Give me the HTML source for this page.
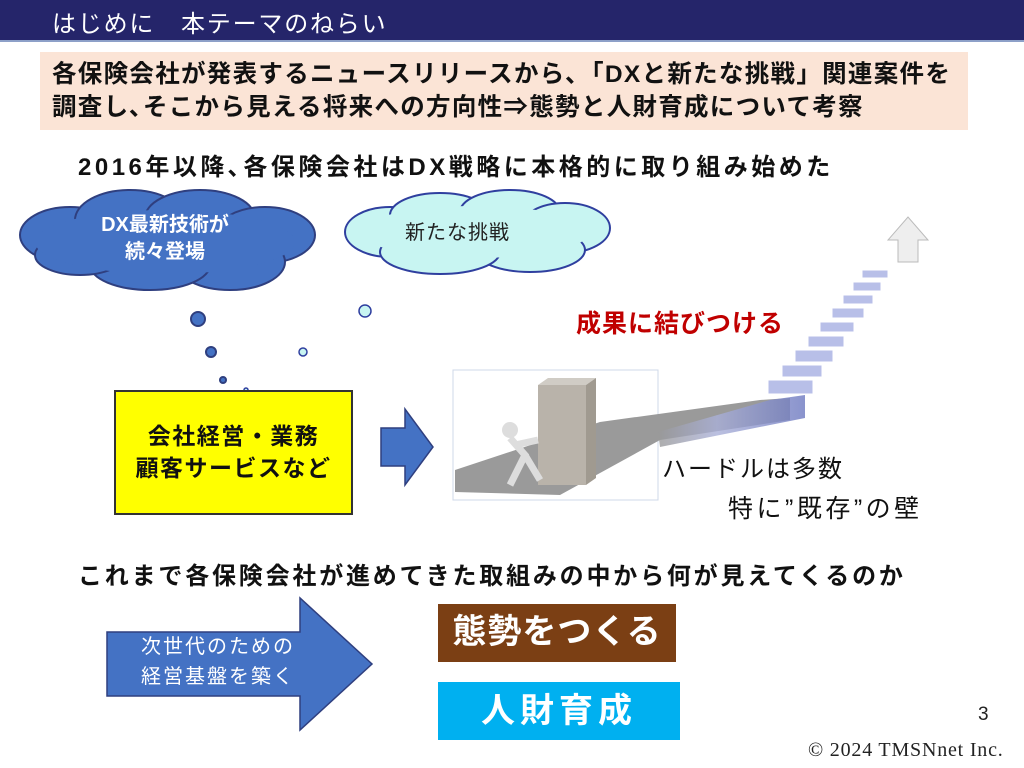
<!DOCTYPE html>
<html><head><meta charset="utf-8"><style>
body{margin:0;width:1024px;height:768px;position:relative;background:#fff;overflow:hidden;font-family:"Liberation Sans","Noto Sans CJK JP",sans-serif}
.a{position:absolute;white-space:nowrap}
</style></head><body>
<div class="a" style="left:0;top:0;width:1024px;height:40px;background:#25256a;border-bottom:2px solid #8da0c8"></div>
<div class="a" style="left:52px;top:4px;color:#fff;font-size:24px;letter-spacing:1.8px">はじめに　本テーマのねらい</div>
<div class="a" style="left:40px;top:52px;width:928px;height:78px;background:#fbe4d6"></div>
<div class="a" style="left:52px;top:58px;font-size:24.5px;letter-spacing:1.3px;font-weight:bold;line-height:33px;color:#111">各保険会社が発表するニュースリリースから､「DXと新たな挑戦」関連案件を<br>調査し､そこから見える将来への方向性⇒態勢と人財育成について考察</div>
<div class="a" style="left:78px;top:147px;font-size:24px;letter-spacing:3.5px;font-weight:bold;color:#111">2016年以降､各保険会社はDX戦略に本格的に取り組み始めた</div>
<svg class="a" style="left:0;top:0" width="1024" height="768">
<defs><linearGradient id="g" x1="0" x2="1"><stop offset="0" stop-color="#999"/><stop offset="0.4" stop-color="#aab0d8"/><stop offset="1" stop-color="#6c78c0"/></linearGradient></defs>
<g fill="#4472c4" stroke="#2f3f7f" stroke-width="2">
<ellipse cx="70" cy="235" rx="50" ry="28"/><ellipse cx="130" cy="220" rx="55" ry="30"/><ellipse cx="200" cy="218" rx="55" ry="28"/><ellipse cx="265" cy="235" rx="50" ry="28"/><ellipse cx="230" cy="262" rx="55" ry="28"/><ellipse cx="150" cy="265" rx="60" ry="25"/><ellipse cx="80" cy="255" rx="45" ry="20"/>
</g>
<g fill="#4472c4"><ellipse cx="165" cy="242" rx="130" ry="32"/></g>
<g fill="#c8f5f2" stroke="#2f3f9f" stroke-width="2">
<ellipse cx="390" cy="232" rx="45" ry="25"/><ellipse cx="440" cy="215" rx="50" ry="22"/><ellipse cx="510" cy="212" rx="50" ry="22"/><ellipse cx="565" cy="228" rx="45" ry="25"/><ellipse cx="530" cy="250" rx="55" ry="22"/><ellipse cx="440" cy="252" rx="60" ry="22"/>
</g>
<ellipse cx="475" cy="232" rx="115" ry="26" fill="#c8f5f2"/>
<g stroke="#2f3f7f" stroke-width="2" fill="#4472c4"><circle cx="198" cy="319" r="7"/><circle cx="211" cy="352" r="5"/><circle cx="223" cy="380" r="3"/></g>
<g stroke="#2f3f9f" stroke-width="1.5" fill="#c8f5f2"><circle cx="365" cy="311" r="6"/><circle cx="303" cy="352" r="4"/><circle cx="246" cy="390" r="2"/></g>
<rect x="115" y="391" width="237" height="123" fill="#ffff00" stroke="#333" stroke-width="2"/>
<polygon points="381,428 405,428 405,409 433,447 405,485 405,466 381,466" fill="#4472c4" stroke="#2f3f7f" stroke-width="1.5"/>
<rect x="453" y="370" width="205" height="130" fill="#fff" stroke="#cfd8e8"/>
<polygon points="455,492 455,470 600,422 760,400 790,398 790,420 660,440 560,495" fill="#9a9a9a"/>
<polygon points="658,432 770,400 805,395 805,418 660,447" fill="url(#g)" opacity="0.8"/>
<g fill="#b8bfe8" stroke="#fff">
<rect x="768" y="380" width="45" height="14"/><rect x="782" y="365" width="40" height="12"/><rect x="795" y="350" width="38" height="12"/><rect x="808" y="336" width="36" height="11"/><rect x="820" y="322" width="34" height="10"/><rect x="832" y="308" width="32" height="10"/><rect x="843" y="295" width="30" height="9"/><rect x="853" y="282" width="28" height="9"/><rect x="862" y="270" width="26" height="8"/></g>
<polygon points="898,262 898,240 888,240 908,217 928,240 918,240 918,262" fill="#eee" stroke="#bbb"/>
<rect x="538" y="385" width="48" height="100" fill="#b9b3aa"/>
<polygon points="538,385 548,378 596,378 586,385" fill="#d0ccc5"/><polygon points="586,385 596,378 596,478 586,485" fill="#a09a90"/>
<circle cx="510" cy="430" r="8" fill="#ddd"/><path d="M510 438 L525 455 L510 485 M525 455 L540 480 M515 445 L538 440" stroke="#ddd" stroke-width="7" fill="none"/>
<polygon points="107,632 300,632 300,598 372,664 300,730 300,696 107,696" fill="#4472c4" stroke="#2f3f7f" stroke-width="1.5"/>
</svg>
<div class="a" style="left:75px;top:212px;width:180px;text-align:center;color:#fff;font-size:20px;font-weight:bold;line-height:27px">DX最新技術が<br>続々登場</div>
<div class="a" style="left:405px;top:216px;font-size:20px;letter-spacing:1px;color:#222">新たな挑戦</div>
<div class="a" style="left:576px;top:304px;font-size:25px;letter-spacing:1px;font-weight:bold;color:#c00000">成果に結びつける</div>
<div class="a" style="left:115px;top:420px;width:237px;text-align:center;font-size:23px;letter-spacing:1.5px;font-weight:bold;line-height:32px;color:#111">会社経営・業務<br>顧客サービスなど</div>
<div class="a" style="left:662px;top:453px;font-size:24px;letter-spacing:2px;line-height:34px;color:#111">ハードルは多数</div>
<div class="a" style="left:728px;top:489px;font-size:25px;letter-spacing:3.5px;color:#111">特に”既存”の壁</div>
<div class="a" style="left:78px;top:556px;font-size:24px;letter-spacing:2.8px;font-weight:bold;color:#111">これまで各保険会社が進めてきた取組みの中から何が見えてくるのか</div>
<div class="a" style="left:113px;top:632px;width:210px;text-align:center;font-size:20px;letter-spacing:2px;line-height:30px;color:#fff">次世代のための<br>経営基盤を築く</div>
<div class="a" style="left:438px;top:604px;width:238px;height:58px;background:#7b3f14;color:#fff;font-size:34px;letter-spacing:1px;font-weight:bold;text-align:center;line-height:56px">態勢をつくる</div>
<div class="a" style="left:438px;top:682px;width:242px;height:58px;background:#00b0f0;color:#fff;font-size:34px;letter-spacing:5px;font-weight:bold;text-align:center;line-height:58px">人財育成</div>
<div class="a" style="left:978px;top:704px;font-size:19px;color:#222">3</div>
<div class="a" style="left:808px;top:739px;font-size:20px;letter-spacing:0.8px;font-family:'Liberation Serif',serif;color:#222">© 2024 TMSNnet Inc.</div>
</body></html>
